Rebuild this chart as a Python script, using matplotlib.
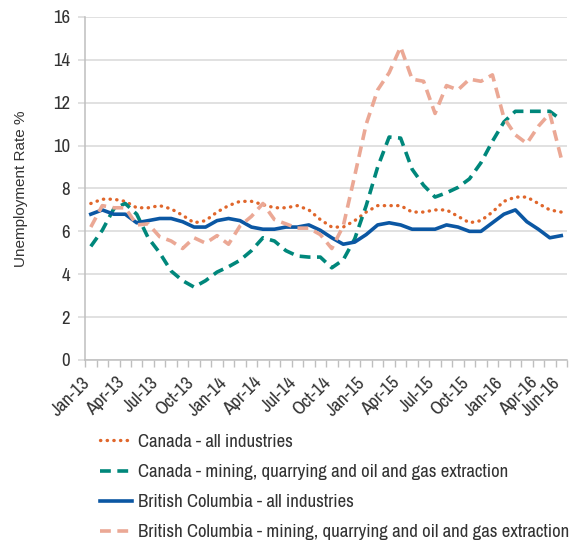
import numpy as np
import pandas as pd
import matplotlib
matplotlib.use("Agg")
import matplotlib.pyplot as plt
from matplotlib import font_manager

# pick the first narrow sans that is installed
installed = {f.name for f in font_manager.fontManager.ttflist}
narrow = next((n for n in ['Liberation Sans Narrow', 'Archivo Narrow', 'PT Sans Narrow',
                           'Roboto Condensed', 'Fira Sans Condensed', 'IBM Plex Sans Condensed',
                           'Sofia Sans Semi Condensed'] if n in installed), 'DejaVu Sans')
plt.rcParams['font.family'] = [narrow, 'DejaVu Sans']

months = pd.date_range('2013-01-01', periods=42, freq='MS').strftime('%b-%y').tolist()

canada_all = [7.3, 7.5, 7.5, 7.4, 7.1, 7.1, 7.2, 7.05, 6.75, 6.4,
              6.5, 6.9, 7.2, 7.4, 7.4, 7.25, 7.1, 7.1, 7.2, 7.0,
              6.55, 6.2, 6.2, 6.5, 6.9, 7.2, 7.2, 7.2, 6.9, 6.9,
              7.0, 7.0, 6.7, 6.4, 6.5, 6.9, 7.4, 7.6, 7.6, 7.3,
              7.0, 6.9]
canada_mining = [5.3, 6.05, 7.05, 7.3, 6.8, 5.7, 5.0, 4.15, 3.7, 3.4,
                 3.7, 4.1, 4.35, 4.65, 5.1, 5.7, 5.55, 5.1, 4.85, 4.8,
                 4.8, 4.3, 4.67, 5.65, 7.2, 9.0, 10.4, 10.35, 8.9, 8.15,
                 7.6, 7.8, 8.05, 8.45, 9.2, 10.2, 11.1, 11.6, 11.6, 11.6,
                 11.6, 11.2]
bc_all = [6.8, 7.0, 6.8, 6.8, 6.4, 6.5, 6.6, 6.6, 6.45, 6.2,
          6.2, 6.5, 6.6, 6.5, 6.2, 6.1, 6.1, 6.2, 6.2, 6.3,
          6.05, 5.7, 5.4, 5.5, 5.85, 6.3, 6.4, 6.3, 6.1, 6.1,
          6.1, 6.3, 6.2, 6.0, 6.0, 6.4, 6.8, 7.0, 6.45, 6.1,
          5.7, 5.8]
bc_mining = [6.2, 7.2, 7.1, 7.1, 6.3, 6.35, 5.75, 5.55, 5.2, 5.7,
             5.45, 5.8, 5.4, 6.25, 6.7, 7.3, 6.55, 6.35, 6.15, 6.15,
             5.85, 5.2, 6.25, 8.6, 11.0, 12.6, 13.4, 14.6, 13.1, 13.0,
             11.5, 12.8, 12.6, 13.1, 13.0, 13.3, 11.3, 10.5, 10.1, 10.9,
             11.5, 9.4]

series_names = ['Canada - all industries',
                'Canada - mining, quarrying and oil and gas extraction',
                'British Columbia - all industries',
                'British Columbia - mining, quarrying and oil and gas extraction']

x = np.arange(len(months))
tick_idx = list(range(0, 40, 3)) + [41]

fig = plt.figure(figsize=(5.71, 5.41), dpi=100)
ax = fig.add_axes([0.149, 0.3346, 0.844, 0.634])

ax.plot(x, canada_all, color='#E0662B', lw=2.4, linestyle=(0, (0.1, 1.9)),
        dash_capstyle='round', label=series_names[0])
ax.plot(x, canada_mining, color='#00877B', lw=2.6, linestyle=(0, (3, 1.8)),
        label=series_names[1])
ax.plot(x, bc_all, color='#0B57A3', lw=2.6, solid_joinstyle='round',
        label=series_names[2])
ax.plot(x, bc_mining, color='#EBA895', lw=2.6, linestyle=(0, (3, 1.8)),
        label=series_names[3])

ax.set_xlim(-0.5, len(months) - 0.5)
ax.set_ylim(0, 16)
ax.set_yticks(np.arange(0, 17, 2))
ax.grid(axis='y', color='#D9D9D9', lw=1.1)
ax.set_axisbelow(True)

# month labels end (baseline, right) under their category
ax.set_xticks(tick_idx)
ax.set_xticklabels([months[i] for i in tick_idx], rotation=45, ha='right',
                   va='baseline', rotation_mode='anchor', fontsize=13.5,
                   color='#333333')
ax.tick_params(axis='x', which='major', length=0, pad=17)
ax.set_xticks(np.arange(-0.5, len(months)), minor=True)
ax.tick_params(axis='x', which='minor', length=5, color='#BFBFBF', width=1)
ax.tick_params(axis='y', length=5, color='#D9D9D9', width=1.1,
               labelsize=13.5, pad=6, labelcolor='#333333')

for side in ['top', 'right']:
    ax.spines[side].set_visible(False)
for side in ['left', 'bottom']:
    ax.spines[side].set_color('#BFBFBF')
    ax.spines[side].set_linewidth(1.1)

ax.set_ylabel('Unemployment Rate %', fontsize=11, color='#333333', labelpad=18,
              family=['Liberation Sans', 'DejaVu Sans'])

fig.legend(loc='upper left', bbox_to_anchor=(0.162, 0.212), frameon=False,
           fontsize=13.5, handlelength=1.72, handletextpad=0.3,
           labelspacing=0.75, borderaxespad=0, labelcolor='#333333')

fig.savefig('out.png', dpi=100)
